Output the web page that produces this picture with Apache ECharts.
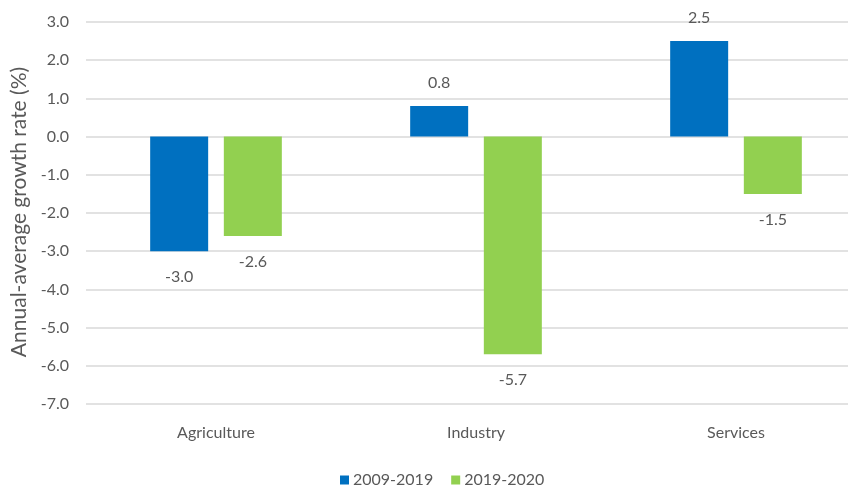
<!DOCTYPE html>
<html>
<head>
<meta charset="utf-8">
<script src="https://cdn.jsdelivr.net/npm/echarts@6/dist/echarts.min.js"></script>
<style>
  html, body { margin: 0; padding: 0; background: #fff; }
  #chart { width: 848px; height: 487px; }
</style>
</head>
<body>
<div id="chart"></div>
<script>
// Sector growth rates, annual average (%)
const categories = ['Agriculture', 'Industry', 'Services'];
const seriesNames = ['2009-2019', '2019-2020'];
const growth2009to2019 = [-3.0, 0.8, 2.5];
const growth2019to2020 = [-2.6, -5.7, -1.5];
const yTicks = { min: -7, max: 3, step: 1 };

const FONT = 'Lato, "Open Sans", sans-serif';
const TEXT = '#595959';

// Value labels sit above positive bars and below negative ones
function withLabels(values) {
  return values.map(v => ({
    value: v,
    label: v < 0 ? { position: 'bottom', distance: 18 } : { position: 'top', distance: 15 }
  }));
}

const labelStyle = {
  show: true,
  color: TEXT,
  fontFamily: FONT,
  fontSize: 16,
  formatter: p => p.value.toFixed(1)
};

const chart = echarts.init(document.getElementById('chart'), null, { renderer: 'canvas' });
chart.setOption({
  animation: false,
  backgroundColor: '#ffffff',
  grid: {
    left: 86, top: 22, width: 780, height: 382,
    containLabel: false,
    outerBoundsMode: 'none'
  },
  legend: {
    top: 467,
    left: 335,
    itemWidth: 9,
    itemHeight: 9,
    itemGap: 18,
    icon: 'rect',
    textStyle: { color: TEXT, fontFamily: FONT, fontSize: 16, padding: [0, 0, 0, -1] },
    data: seriesNames
  },
  xAxis: {
    type: 'category',
    data: categories,
    position: 'bottom',
    axisLine: { show: false },
    axisTick: { show: false },
    axisLabel: { color: TEXT, fontFamily: FONT, fontSize: 16, margin: 21 },
    splitLine: { show: false }
  },
  yAxis: {
    type: 'value',
    min: yTicks.min,
    max: yTicks.max,
    interval: yTicks.step,
    name: 'Annual-average growth rate (%)',
    nameLocation: 'middle',
    nameGap: 44,
    nameTextStyle: { color: TEXT, fontFamily: FONT, fontSize: 21, padding: [0, 0, 0, 2] },
    axisLine: { show: false },
    axisTick: { show: false },
    axisLabel: {
      color: TEXT, fontFamily: FONT, fontSize: 16, margin: 17,
      formatter: v => v.toFixed(1)
    },
    splitLine: { lineStyle: { color: '#d9d9d9', width: 1.5 } }
  },
  series: [
    {
      name: seriesNames[0],
      type: 'bar',
      data: withLabels(growth2009to2019),
      barWidth: 58,
      barGap: '27%',
      itemStyle: { color: '#0070C0' },
      label: labelStyle
    },
    {
      name: seriesNames[1],
      type: 'bar',
      data: withLabels(growth2019to2020),
      barWidth: 58,
      barGap: '27%',
      itemStyle: { color: '#92D050' },
      label: labelStyle
    }
  ]
});
</script>
</body>
</html>
